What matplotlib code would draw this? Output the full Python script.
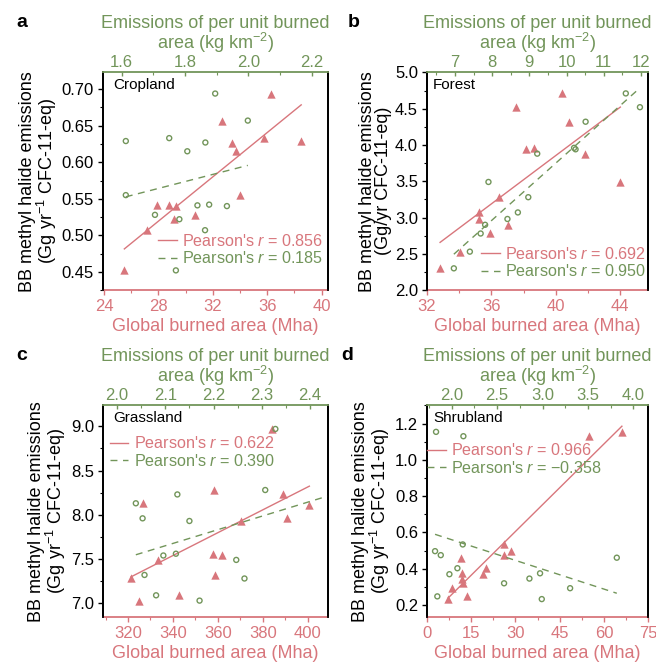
import numpy as np
import matplotlib
matplotlib.use("Agg")
import matplotlib.pyplot as plt
from matplotlib.ticker import MultipleLocator
from matplotlib.lines import Line2D

plt.rcParams['font.family'] = ['Liberation Sans', 'DejaVu Sans']
plt.rcParams['mathtext.fontset'] = 'custom'
plt.rcParams['mathtext.rm'] = 'Liberation Sans'
plt.rcParams['mathtext.it'] = 'Liberation Sans:italic'
plt.rcParams['mathtext.bf'] = 'Liberation Sans:bold'

RED = '#d8767c'
GREEN = '#72955a'

# --- Cropland
crop_y = [0.694, 0.657, 0.633, 0.629, 0.627, 0.615, 0.555, 0.542, 0.541, 0.540, 0.528, 0.522, 0.507, 0.452]
crop_area = [36.3, 32.65, 35.8, 38.5, 33.4, 33.7, 34.0, 28.8, 27.9, 29.3, 30.7, 29.15, 27.2, 25.5]
crop_unit = [1.895, 1.998, 1.750, 1.613, 1.864, 1.807, 1.613, 1.876, 1.839, 1.932, 1.705, 1.782, 1.863, 1.771]
crop_r = (0.856, 0.185)

# --- Forest
forest_y = [4.71, 4.52, 4.32, 3.96, 3.94, 3.88, 3.49, 3.28, 3.07, 2.98, 2.90, 2.78, 2.53, 2.30]
forest_area = [40.38, 37.56, 40.83, 38.65, 38.17, 41.81, 44.02, 36.5, 35.25, 35.25, 37.04, 35.94, 34.02, 32.81]
forest_unit = [11.59, 11.97, 10.51, 10.20, 10.24, 9.21, 7.90, 8.97, 8.69, 8.41, 7.81, 7.69, 7.40, 6.97]
forest_r = (0.692, 0.950)

# --- Grassland (one unit value sits past the top axis edge, hidden in the original)
grass_y = [8.97, 8.28, 8.23, 8.13, 8.11, 7.96, 7.93, 7.56, 7.54, 7.49, 7.32, 7.28, 7.09, 7.03]
grass_area = [384.3, 358.3, 388.9, 326.5, 400.7, 390.6, 370.4, 357.8, 361.8, 333.5, 358.8, 321.4, 342.7, 324.9]
grass_unit = [2.328, 2.307, 2.125, 2.039, 2.45, 2.053, 2.150, 2.122, 2.096, 2.247, 2.057, 2.264, 2.081, 2.171]
grass_r = (0.622, 0.390)

# --- Shrubland
shrub_y = [1.154, 1.130, 0.534, 0.497, 0.475, 0.461, 0.403, 0.375, 0.370, 0.346, 0.320, 0.293, 0.248, 0.233]
shrub_area = [66.1, 55.1, 26.1, 28.4, 26.1, 11.4, 19.9, 12.0, 19.1, 12.0, 12.3, 8.4, 13.7, 7.2]
shrub_unit = [1.827, 2.128, 2.121, 1.816, 1.879, 3.817, 2.062, 2.972, 1.974, 2.855, 2.576, 3.303, 1.841, 2.991]
shrub_r = (0.966, -0.358)

YLAB = "BB methyl halide emissions\n(Gg yr$^{-1}$ CFC-11-eq)"
YLAB_B = "BB methyl halide emissions\n(Gg/yr CFC-11-eq)"

fig = plt.figure(figsize=(6.56, 6.70), dpi=100)


def fmt_r(v):
    return "Pearson's $r$ = " + f"{v:.3f}".replace('-', '\u2212')


def panel(rect, letter, letter_xy, name, name_x, y, area, unit, rr,
          xlim, xtop, ylim, steps, leg_loc, leg_anchor, ylabel):
    ax = fig.add_axes(rect)
    top = ax.twiny()
    y = np.array(y)
    area = np.array(area)
    unit = np.array(unit)

    ax.scatter(area, y, marker='^', s=36, color=RED, linewidths=0, zorder=3)
    top.scatter(unit, y, marker='o', s=13, facecolors='none', edgecolors=GREEN,
                linewidths=1.0, zorder=3)

    k, b = np.polyfit(area, y, 1)
    xs = np.array([area.min(), area.max()])
    ax.plot(xs, k * xs + b, color=RED, lw=1)
    k2, b2 = np.polyfit(unit, y, 1)
    xs2 = np.array([unit.min(), unit.max()])
    top.plot(xs2, k2 * xs2 + b2, color=GREEN, lw=1, ls=(0, (5, 4)))

    ax.set_xlim(*xlim)
    top.set_xlim(*xtop)
    ax.set_ylim(*ylim)

    ax.xaxis.set_major_locator(MultipleLocator(steps[0]))
    ax.xaxis.set_minor_locator(MultipleLocator(steps[0] / 2))
    top.xaxis.set_major_locator(MultipleLocator(steps[1]))
    top.xaxis.set_minor_locator(MultipleLocator(steps[1] / 2))
    ax.yaxis.set_major_locator(MultipleLocator(steps[2]))
    ax.yaxis.set_minor_locator(MultipleLocator(steps[2] / 2))

    for a in (ax, top):
        for s in a.spines.values():
            s.set_linewidth(1.3)
        a.spines['left'].set_color('black')
        a.spines['right'].set_color('black')
    ax.spines['top'].set_visible(False)
    top.spines['bottom'].set_visible(False)
    ax.spines['bottom'].set_color(RED)
    top.spines['top'].set_color(GREEN)

    ax.tick_params(axis='x', which='both', colors=RED, labelsize=12, pad=3)
    ax.tick_params(axis='x', which='major', length=3.5, width=1)
    ax.tick_params(axis='x', which='minor', length=2, width=0.8)
    top.tick_params(axis='x', which='both', colors=GREEN, labelsize=12, pad=2,
                    direction='in')
    top.tick_params(axis='x', which='major', length=3, width=1)
    top.tick_params(axis='x', which='minor', length=2, width=0.8)
    ax.tick_params(axis='y', which='both', labelsize=12, pad=3)
    ax.tick_params(axis='y', which='major', length=3.5, width=1)
    ax.tick_params(axis='y', which='minor', length=2, width=0.8)

    ax.set_xlabel("Global burned area (Mha)", color=RED, fontsize=13, labelpad=3)
    top.set_xlabel("Emissions of per unit burned\narea (kg km$^{-2}$)", color=GREEN,
                   fontsize=13, linespacing=0.95, labelpad=4)
    ax.set_ylabel(ylabel, fontsize=13, linespacing=0.92, labelpad=2)

    ax.text(name_x, 0.975, name, transform=ax.transAxes, fontsize=11, va='top')
    fig.text(letter_xy[0], letter_xy[1], letter, fontsize=14, fontweight='bold',
             va='center', ha='left')

    handles = [Line2D([], [], color=RED, lw=1),
               Line2D([], [], color=GREEN, lw=1, ls=(0, (5, 4)))]
    leg = top.legend(handles, [fmt_r(rr[0]), fmt_r(rr[1])], loc=leg_loc,
                     bbox_to_anchor=leg_anchor, frameon=False, fontsize=11.6,
                     handlelength=1.15, handletextpad=0.35, borderpad=0,
                     borderaxespad=0, labelspacing=0.1)
    for t, c in zip(leg.get_texts(), [RED, GREEN]):
        t.set_color(c)


panel([0.157, 0.567, 0.343, 0.325], 'a', (0.025, 0.967), 'Cropland', 0.044,
      crop_y, crop_area, crop_unit, crop_r,
      (23.93, 40.47), (1.541, 2.251), (0.425, 0.723), (4, 0.2, 0.05),
      'lower left', (0.245, 0.11), YLAB)
panel([0.651, 0.567, 0.337, 0.325], 'b', (0.530, 0.967), 'Forest', 0.027,
      forest_y, forest_area, forest_unit, forest_r,
      (32, 45.75), (6.25, 12.19), (2.0, 5.0), (4, 1, 0.5),
      'lower left', (0.245, 0.05), YLAB_B)
panel([0.157, 0.079, 0.343, 0.316], 'c', (0.025, 0.470), 'Grassland', 0.044,
      grass_y, grass_area, grass_unit, grass_r,
      (308.87, 409.0), (1.971, 2.437), (6.844, 9.237), (20, 0.1, 0.5),
      'upper left', (0.03, 0.858), YLAB)
panel([0.651, 0.079, 0.337, 0.316], 'd', (0.520, 0.470), 'Shrubland', 0.027,
      shrub_y, shrub_area, shrub_unit, shrub_r,
      (0, 75), (1.728, 4.162), (0.134, 1.30), (15, 0.5, 0.2),
      'upper left', (0.0, 0.826), YLAB)

fig.savefig('out.png', dpi=100)
